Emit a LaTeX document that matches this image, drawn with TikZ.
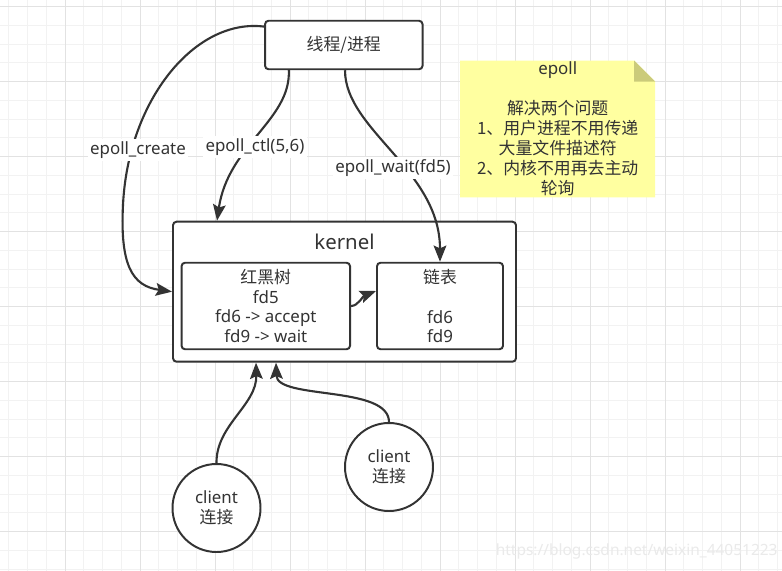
\documentclass[tikz,border=0pt]{standalone}
\usepackage{fontspec}
\setmainfont{Noto Sans}
\newfontfamily\cjk{Noto Sans CJK SC}
\usetikzlibrary{arrows.meta, positioning, calc, backgrounds}
\definecolor{cLine}{HTML}{333333}
\definecolor{cText}{HTML}{333333}
\definecolor{cNote}{HTML}{FFFFA0}
\definecolor{cFold}{HTML}{CBCB7A}
\definecolor{cGridMinor}{HTML}{F2F2F2}
\definecolor{cGridMajor}{HTML}{E2E2E2}
\definecolor{cMark}{HTML}{EAEAEA}
\newcommand{\pxu}{0.025cm}
\tikzset{
  font=\fontsize{12}{14.2}\selectfont,
  box/.style={draw=cLine, fill=white, rounded corners=2.5pt, line width=1.4pt,
    text=cText, align=center, inner sep=0pt},
  procbox/.style={box, minimum width=157.5*\pxu, minimum height=48.5*\pxu},
  kernelbox/.style={box, minimum width=343*\pxu, minimum height=140*\pxu},
  tablebox/.style={box, minimum height=86.5*\pxu},
  kerneltitle/.style={text=cText, inner sep=0pt, font=\fontsize{14.5}{17}\selectfont},
  clientnode/.style={circle, draw=cLine, fill=white, line width=1.4pt,
    minimum size=88*\pxu, inner sep=0pt, align=center, text=cText},
  notebox/.style={minimum width=194.5*\pxu, minimum height=136*\pxu,
    align=center, text=cText, inner sep=0pt},
  edgelabel/.style={fill=white, text=cText, inner sep=1.5pt},
  flow/.style={-{Stealth[length=11.5pt, width=9pt, inset=2pt]}, line width=1.5pt, draw=cLine},
  gridminor/.style={draw=cGridMinor, line width=0.7pt},
  gridmajor/.style={draw=cGridMajor, line width=0.7pt},
  watermark/.style={text=cMark, inner sep=0pt, font=\fontsize{11}{13}\selectfont},
}

\begin{document}
\begin{tikzpicture}[x=0.025cm, y=-0.025cm]
  \useasboundingbox (0,0) rectangle (782,571);

  % ----------------------------------------------------------------
  % Background grid
  % ----------------------------------------------------------------
  \begin{scope}[on background layer]
    \fill[white] (0,0) rectangle (782,571);
    \foreach \gx in {0,...,41}
      \draw[gridminor] (8.75+18.75*\gx,0) -- (8.75+18.75*\gx,571);
    \foreach \gy in {0,...,30}
      \draw[gridminor] (0,6.7+18.75*\gy) -- (782,6.7+18.75*\gy);
    \foreach \gx in {0,...,9}
      \draw[gridmajor] (65+75*\gx,0) -- (65+75*\gx,571);
    \foreach \gy in {0,...,7}
      \draw[gridmajor] (0,6.7+75*\gy) -- (782,6.7+75*\gy);
  \end{scope}

  % ----------------------------------------------------------------
  % Process and kernel
  % ----------------------------------------------------------------
  \node[procbox] (proc) at (343.8,45) {\cjk 线程/进程};

  \node[kernelbox] (kernel) at (344.5,291.7) {};
  \node[kerneltitle] (kname) at ($(kernel.north)+(0,21.3)$) {kernel};

  \node[tablebox, minimum width=168.5*\pxu] (rbtree) at (265.8,306)
    {{\cjk 红黑树}\\fd5\\fd6 -> accept\\fd9 -> wait};
  \node[tablebox, minimum width=126*\pxu] (list) at (440,306)
    {{\cjk 链表}\\ \mbox{}\\fd6\\fd9};

  \draw[flow] (rbtree.east) .. controls (358,306) and (363,296) .. ($(list.west)+(0,-15)$);

  % ----------------------------------------------------------------
  % System calls
  % ----------------------------------------------------------------
  \draw[flow] (proc.167) .. controls (195,18) and (128,100) .. (123,205)
    .. controls (120,265) and (132,286) .. (kernel.west);
  \node[edgelabel] (lcreate) at (138,150) {epoll\_create};

  \draw[flow] ($(proc.south)+(-55,0)$) .. controls (291,120) and (228,145)
    .. ($(kernel.north west)+(45,0)$);
  \node[edgelabel] (lctl) at (255,147) {epoll\_ctl(5,6)};

  \draw[flow] ($(proc.south)+(1.2,0)$) .. controls (345,130) and (440,170) .. (list.north);
  \node[edgelabel] (lwait) at (393,168) {epoll\_wait(fd5)};

  % ----------------------------------------------------------------
  % Note
  % ----------------------------------------------------------------
  \node[notebox] (note) at (557.7,129)
    {epoll\\ \mbox{}\\{\cjk 解决两个问题}\\{\cjk 1、用户进程不用传递}\\{\cjk 大量文件描述符}\\{\cjk 2、内核不用再去主动}\\{\cjk 轮询}};
  \begin{scope}[on background layer]
    \fill[cNote] (note.south west) -- (note.north west) -- ($(note.north east)+(-21,0)$)
      -- ($(note.north east)+(0,21)$) -- (note.south east) -- cycle;
    \fill[cFold] ($(note.north east)+(-21,0)$) -- ($(note.north east)+(-21,21)$)
      -- ($(note.north east)+(0,21)$) -- cycle;
  \end{scope}

  % ----------------------------------------------------------------
  % Clients
  % ----------------------------------------------------------------
  \node[clientnode] (client1) at (216.5,508) {client\\{\cjk 连接}};
  \node[clientnode] (client2) at (389,467) {client\\{\cjk 连接}};

  \draw[flow] (client1.north) .. controls (216,425) and (257,405) .. ($(kernel.south west)+(84,0)$);
  \draw[flow] (client2.north) .. controls (389,385) and (277,400) .. ($(kernel.south west)+(104,0)$);

  \node[watermark] (wmark) at (636.7,551) {https://blog.csdn.net/weixin\_44051223};

\end{tikzpicture}
\end{document}
